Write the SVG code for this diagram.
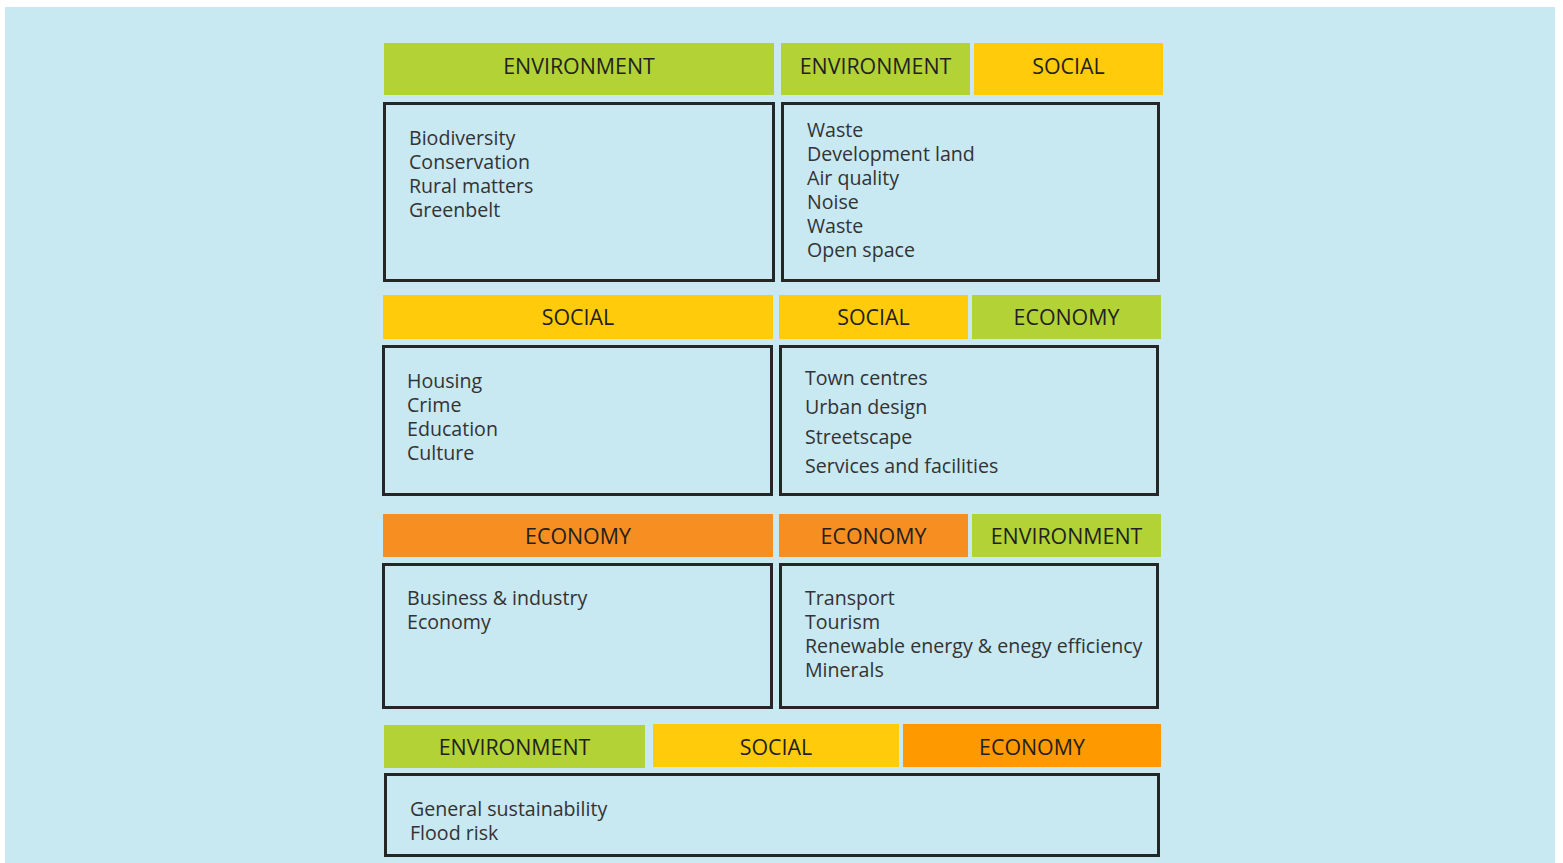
<svg xmlns="http://www.w3.org/2000/svg" width="1563" height="863" viewBox="0 0 1563 863">
<style>
.g{fill:#b2d235}.y{fill:#ffcb0a}.o{fill:#f68e21}.o2{fill:#ff9900}
.box{fill:none;stroke:#262626;stroke-width:3}
.h{font-family:"Open Sans",sans-serif;font-size:21.4px;fill:#231f20;text-anchor:middle}
.t{font-family:"Open Sans",sans-serif;font-size:19.6px;fill:#333}
</style>
<rect x="0" y="0" width="1563" height="863" fill="#fff"/>
<rect x="5" y="7" width="1550" height="856" fill="#c8e8f2"/>
<g id="row1-left">
<rect class="g" x="384" y="43" width="390" height="52"/>
<text class="h" x="579" y="73.5">ENVIRONMENT</text>
<rect class="box" x="384.5" y="103.5" width="389" height="177"/>
<text class="t" x="409" y="145">Biodiversity</text>
<text class="t" x="409" y="169">Conservation</text>
<text class="t" x="409" y="193">Rural matters</text>
<text class="t" x="409" y="217">Greenbelt</text>
</g>
<g id="row1-right">
<rect class="g" x="781" y="43" width="189" height="52"/>
<text class="h" x="875.5" y="73.5">ENVIRONMENT</text>
<rect class="y" x="974" y="43" width="189" height="52"/>
<text class="h" x="1068.5" y="73.5">SOCIAL</text>
<rect class="box" x="782.5" y="103.5" width="376" height="177"/>
<text class="t" x="807" y="137">Waste</text>
<text class="t" x="807" y="161">Development land</text>
<text class="t" x="807" y="185">Air quality</text>
<text class="t" x="807" y="209">Noise</text>
<text class="t" x="807" y="233">Waste</text>
<text class="t" x="807" y="257">Open space</text>
</g>
<g id="row2-left">
<rect class="y" x="383" y="295" width="390" height="44"/>
<text class="h" x="578" y="324.5">SOCIAL</text>
<rect class="box" x="383.5" y="346.5" width="388" height="148"/>
<text class="t" x="407" y="388">Housing</text>
<text class="t" x="407" y="412">Crime</text>
<text class="t" x="407" y="436">Education</text>
<text class="t" x="407" y="460">Culture</text>
</g>
<g id="row2-right">
<rect class="y" x="779" y="295" width="189" height="44"/>
<text class="h" x="873.5" y="324.5">SOCIAL</text>
<rect class="g" x="972" y="295" width="189" height="44"/>
<text class="h" x="1066.5" y="324.5">ECONOMY</text>
<rect class="box" x="780.5" y="346.5" width="377" height="148"/>
<text class="t" x="805" y="385">Town centres</text>
<text class="t" x="805" y="414">Urban design</text>
<text class="t" x="805" y="444">Streetscape</text>
<text class="t" x="805" y="473">Services and facilities</text>
</g>
<g id="row3-left">
<rect class="o" x="383" y="514" width="390" height="43"/>
<text class="h" x="578" y="543.5">ECONOMY</text>
<rect class="box" x="383.5" y="564.5" width="388" height="143"/>
<text class="t" x="407" y="605">Business &amp; industry</text>
<text class="t" x="407" y="629">Economy</text>
</g>
<g id="row3-right">
<rect class="o" x="779" y="514" width="189" height="43"/>
<text class="h" x="873.5" y="543.5">ECONOMY</text>
<rect class="g" x="972" y="514" width="189" height="43"/>
<text class="h" x="1066.5" y="543.5">ENVIRONMENT</text>
<rect class="box" x="780.5" y="564.5" width="377" height="143"/>
<text class="t" x="805" y="605">Transport</text>
<text class="t" x="805" y="629">Tourism</text>
<text class="t" x="805" y="653">Renewable energy &amp; enegy efficiency</text>
<text class="t" x="805" y="677">Minerals</text>
</g>
<g id="row4">
<rect class="g" x="384" y="725" width="261" height="43"/>
<text class="h" x="514.5" y="754.5">ENVIRONMENT</text>
<rect class="y" x="653" y="724" width="246" height="43"/>
<text class="h" x="776" y="754.5">SOCIAL</text>
<rect class="o2" x="903" y="724" width="258" height="43"/>
<text class="h" x="1032" y="754.5">ECONOMY</text>
<rect class="box" x="385.5" y="774.5" width="773" height="81"/>
<text class="t" x="410" y="816">General sustainability</text>
<text class="t" x="410" y="840">Flood risk</text>
</g>
<g id="connectors"></g>
</svg>
